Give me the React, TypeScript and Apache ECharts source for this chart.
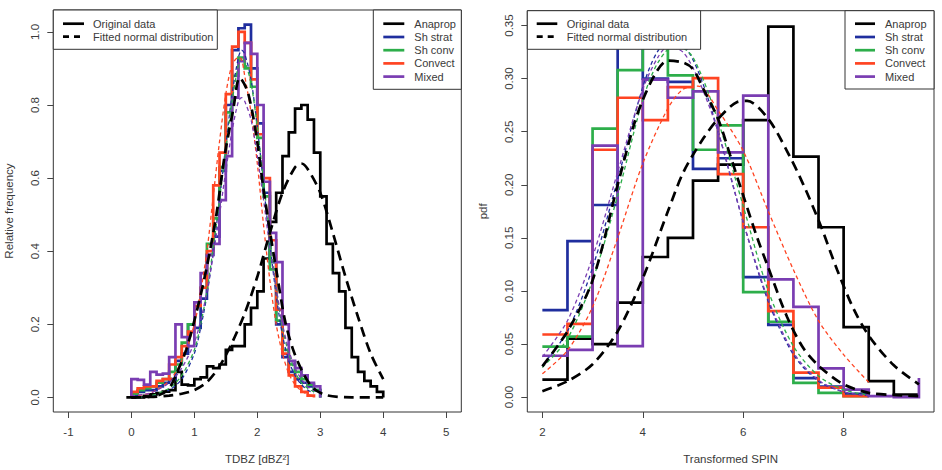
import React, { useEffect, useRef } from "react";
import * as echarts from "echarts";

// ---------- TDBZ panel: relative-frequency histograms, 0.1-wide bins from 0 ----------
const tdbzBinStart = 0;
const tdbzBinWidth = 0.1;
const tdbzAnaprop = [0.0, 0.0, 0.004, 0.008, 0.012, 0.016, 0.02, 0.07, 0.035, 0.033, 0.05, 0.055, 0.085, 0.08, 0.09, 0.13, 0.14, 0.14, 0.2, 0.245, 0.29, 0.38, 0.48, 0.56, 0.66, 0.725, 0.79, 0.8, 0.76, 0.67, 0.55, 0.42, 0.34, 0.29, 0.19, 0.11, 0.07, 0.045, 0.03, 0.015];
const tdbzShStrat = [0.005, 0.015, 0.02, 0.02, 0.03, 0.04, 0.05, 0.1, 0.12, 0.2, 0.19, 0.27, 0.39, 0.44, 0.62, 0.8, 0.95, 1.01, 1.02, 0.9, 0.75, 0.56, 0.37, 0.2, 0.11, 0.07, 0.05, 0.04, 0.03, 0.02];
const tdbzShConv = [0.01, 0.02, 0.025, 0.03, 0.04, 0.05, 0.07, 0.09, 0.15, 0.2, 0.25, 0.3, 0.42, 0.49, 0.63, 0.78, 0.88, 0.93, 0.9, 0.85, 0.71, 0.55, 0.35, 0.21, 0.13, 0.09, 0.07, 0.05, 0.035, 0.02];
const tdbzConvect = [0.015, 0.025, 0.03, 0.03, 0.045, 0.05, 0.09, 0.11, 0.14, 0.18, 0.25, 0.3, 0.4, 0.58, 0.67, 0.83, 0.96, 1.0, 0.97, 0.87, 0.72, 0.6, 0.43, 0.24, 0.12, 0.06, 0.03, 0.015, 0.005];
const tdbzMixed = [0.05, 0.048, 0.035, 0.07, 0.062, 0.065, 0.11, 0.2, 0.165, 0.14, 0.26, 0.34, 0.39, 0.42, 0.54, 0.66, 0.82, 0.92, 0.97, 0.94, 0.8, 0.59, 0.45, 0.37, 0.2, 0.1, 0.08, 0.06, 0.04, 0.03];

// TDBZ fitted normal curves (sampled)
const tdbzFitAllX = [-0.08, 0.2, 0.45, 0.6, 0.72, 0.87, 1.03, 1.19, 1.35, 1.48, 1.62, 1.72, 1.85, 1.99, 2.09, 2.2, 2.31, 2.44, 2.57, 2.73, 2.89, 3.1, 3.5, 4.0];
const tdbzFitAllY = [0, 0.001, 0.007, 0.025, 0.066, 0.13, 0.23, 0.35, 0.5, 0.66, 0.79, 0.875, 0.835, 0.71, 0.58, 0.455, 0.34, 0.21, 0.13, 0.066, 0.025, 0.006, 0, 0];
const tdbzFitAnapropX = [0, 0.3, 0.6, 0.8, 1.0, 1.2, 1.4, 1.6, 1.8, 2.0, 2.2, 2.4, 2.6, 2.7, 2.8, 3.0, 3.2, 3.4, 3.6, 3.8, 4.0];
const tdbzFitAnapropY = [0, 0.001, 0.005, 0.01, 0.02, 0.042, 0.085, 0.15, 0.23, 0.33, 0.45, 0.56, 0.63, 0.64, 0.625, 0.56, 0.45, 0.33, 0.22, 0.12, 0.05];
const tdbzFitClassX = [0, 0.3, 0.6, 0.8, 1.0, 1.1, 1.2, 1.3, 1.4, 1.5, 1.6, 1.7, 1.75, 1.8, 1.9, 2.0, 2.1, 2.2, 2.3, 2.4, 2.5, 2.6, 2.7, 2.8, 2.9];
const tdbzFitShStratY = [0.0, 0.003, 0.02, 0.05, 0.12, 0.19, 0.28, 0.4, 0.54, 0.69, 0.83, 0.93, 0.95, 0.94, 0.87, 0.74, 0.58, 0.42, 0.28, 0.17, 0.1, 0.06, 0.035, 0.02, 0.012];
const tdbzFitShConvY = [0.0, 0.004, 0.025, 0.06, 0.13, 0.2, 0.29, 0.41, 0.54, 0.68, 0.81, 0.91, 0.93, 0.92, 0.86, 0.74, 0.59, 0.44, 0.3, 0.19, 0.12, 0.07, 0.04, 0.025, 0.015];
const tdbzFitConvectY = [0.003, 0.012, 0.045, 0.1, 0.2, 0.29, 0.4, 0.55, 0.7, 0.83, 0.91, 0.93, 0.925, 0.88, 0.78, 0.64, 0.47, 0.32, 0.2, 0.12, 0.065, 0.035, 0.018, 0.008, 0.004];
const tdbzFitMixedY = [0.005, 0.012, 0.04, 0.08, 0.15, 0.21, 0.29, 0.39, 0.5, 0.62, 0.73, 0.81, 0.82, 0.81, 0.76, 0.66, 0.54, 0.41, 0.3, 0.2, 0.13, 0.08, 0.05, 0.03, 0.018];

// ---------- Transformed SPIN panel: pdf histograms, 0.5-wide bins from 2 ----------
const spinBinStart = 2;
const spinBinWidth = 0.5;
const spinAnaprop = [0.0165, 0.055, 0.05, 0.089, 0.132, 0.15, 0.204, 0.219, 0.261, 0.349, 0.2265, 0.16, 0.066, 0.015, 0.0025];
const spinShStrat = [0.082, 0.147, 0.181, 0.34, 0.3, 0.297, 0.215, 0.225, 0.113, 0.068, 0.018, 0.01, 0.003];
const spinShConv = [0.0476, 0.057, 0.253, 0.308, 0.354, 0.303, 0.233, 0.256, 0.099, 0.071, 0.0134, 0.004, 0.001];
const spinConvect = [0.059, 0.069, 0.233, 0.282, 0.261, 0.292, 0.3005, 0.21, 0.16, 0.081, 0.023, 0.009, 0.001];
const spinMixed = [0.039, 0.0445, 0.237, 0.048, 0.299, 0.282, 0.288, 0.2305, 0.284, 0.111, 0.085, 0.027, 0.007, 0.001, 0.0];
const spinMixedEnd = 0.018;

// SPIN fitted normal curves (sampled)
const spinFitAllX = [2, 2.5, 3, 3.5, 3.82, 4, 4.28, 4.5, 4.81, 5, 5.21, 5.5, 5.74, 6, 6.28, 6.5, 6.87, 7.2, 7.54, 8, 8.5, 9, 9.5];
const spinFitAllY = [0.029, 0.062, 0.11, 0.2, 0.256, 0.28, 0.307, 0.317, 0.315, 0.309, 0.29, 0.262, 0.228, 0.19, 0.15, 0.122, 0.076, 0.046, 0.028, 0.012, 0.004, 0.002, 0.001];
const spinFitAnapropX = [2, 2.5, 3, 3.5, 4, 4.5, 4.81, 5.21, 5.5, 5.88, 6.08, 6.5, 6.87, 7.2, 7.54, 7.87, 8.2, 8.53, 9, 9.5];
const spinFitAnapropY = [0.0056, 0.015, 0.031, 0.062, 0.112, 0.175, 0.212, 0.244, 0.262, 0.278, 0.279, 0.262, 0.232, 0.2, 0.162, 0.12, 0.083, 0.056, 0.03, 0.012];
const spinFitShStratX = [2, 2.5, 3, 3.5, 4, 4.3, 4.6, 4.9, 5.2, 5.5, 6, 6.5, 7, 7.5, 8, 8.5];
const spinFitShStratY = [0.03, 0.062, 0.122, 0.205, 0.292, 0.326, 0.337, 0.326, 0.295, 0.25, 0.165, 0.09, 0.04, 0.015, 0.005, 0.0015];
const spinFitShConvX = [2, 2.5, 3, 3.5, 4, 4.3, 4.65, 5, 5.5, 6, 6.5, 7, 7.5, 8, 8.5];
const spinFitShConvY = [0.028, 0.055, 0.11, 0.19, 0.28, 0.315, 0.332, 0.32, 0.26, 0.18, 0.1, 0.048, 0.02, 0.007, 0.002];
const spinFitConvectX = [2, 2.5, 3, 3.5, 4, 4.5, 4.8, 5.1, 5.5, 6, 6.5, 7, 7.5, 8, 8.5];
const spinFitConvectY = [0.022, 0.044, 0.085, 0.15, 0.22, 0.272, 0.29, 0.293, 0.27, 0.232, 0.175, 0.12, 0.072, 0.04, 0.014];
const spinFitMixedX = [2, 2.5, 3, 3.5, 4, 4.3, 4.5, 4.8, 5.1, 5.5, 6, 6.5, 7, 7.5, 8, 8.5, 9, 9.5];
const spinFitMixedY = [0.038, 0.072, 0.132, 0.212, 0.29, 0.32, 0.33, 0.325, 0.3, 0.25, 0.165, 0.092, 0.042, 0.016, 0.005, 0.0015, 0.0005, 0.0001];

// axis ticks
const tdbzTicks = [-1, 0, 1, 2, 3, 4, 5];
const relFreqTicks = [0, 0.2, 0.4, 0.6, 0.8, 1.0];
const spinTicks = [2, 4, 6, 8];
const pdfTicks = [0, 0.05, 0.1, 0.15, 0.2, 0.25, 0.3, 0.35];

const classNames = ["Anaprop", "Sh strat", "Sh conv", "Convect", "Mixed"];
const classColors = ["#000000", "#1F2E9E", "#2DAE4A", "#FF4422", "#7A3DB2"];
const styleNames = ["Original data", "Fitted normal distribution"];

const FONT = '"Liberation Sans", Arial, Helvetica, sans-serif';
const TEXT = "#3a3a3a";
const HIST_W = 2.7;
const FIT_THICK = 2.7;
const FIT_THIN = 1.3;
const DASH_THICK = [10, 6];
const DASH_THIN = [4, 3];
const LEGEND_Z = 100;

function stepPoints(start: number, width: number, values: number[], fromZero: boolean, toZero: boolean) {
  const pts: number[][] = [];
  if (fromZero) pts.push([start, 0]);
  values.forEach((v, i) => {
    pts.push([start + i * width, v]);
    pts.push([start + (i + 1) * width, v]);
  });
  if (toZero) pts.push([start + values.length * width, 0]);
  return pts;
}

function histSeries(pts: number[][], color: string, grid: number) {
  return {
    type: "line",
    xAxisIndex: grid,
    yAxisIndex: grid,
    data: pts,
    symbol: "none",
    silent: true,
    lineStyle: { color, width: HIST_W, join: "miter" },
    z: 2,
  };
}

function fitSeries(xs: number[], ys: number[], color: string, thick: boolean, grid: number) {
  return {
    type: "line",
    xAxisIndex: grid,
    yAxisIndex: grid,
    data: xs.map((x, i) => [x, ys[i]]),
    symbol: "none",
    silent: true,
    smooth: 0.3,
    lineStyle: {
      color,
      width: thick ? FIT_THICK : FIT_THIN,
      type: thick ? DASH_THICK : DASH_THIN,
    },
    z: thick ? 4 : 3,
  };
}

function legendBox(x: number, y: number, w: number, h: number, rows: { label: string; color: string; dash: number[] | null }[], lineX0: number, lineX1: number, textX: number, rowYs: number[]) {
  const els: any[] = [
    {
      type: "rect",
      z: LEGEND_Z,
      shape: { x, y, width: w, height: h },
      style: { fill: "#ffffff", stroke: "#333333", lineWidth: 1 },
    },
  ];
  rows.forEach((r, i) => {
    els.push({
      type: "line",
      z: LEGEND_Z + 1,
      shape: { x1: lineX0, y1: rowYs[i], x2: lineX1, y2: rowYs[i] },
      style: { stroke: r.color, lineWidth: HIST_W, lineDash: r.dash || undefined },
    });
    els.push({
      type: "text",
      z: LEGEND_Z + 1,
      x: textX,
      y: rowYs[i],
      style: { text: r.label, fill: TEXT, font: `11px ${FONT}`, verticalAlign: "middle" },
    });
  });
  return els;
}

function xAxisDef(grid: number, min: number, max: number, ticks: number[], name: string) {
  return {
    gridIndex: grid,
    type: "value",
    min,
    max,
    axisLine: { show: false, onZero: false },
    axisTick: { show: true, customValues: ticks, length: 6, inside: false, lineStyle: { color: "#444", width: 1 } },
    axisLabel: { customValues: ticks, color: TEXT, fontSize: 11.5, fontFamily: FONT, margin: 14 },
    splitLine: { show: false },
    name,
    nameLocation: "middle",
    nameGap: 41,
    nameTextStyle: { color: TEXT, fontSize: 11.5, fontFamily: FONT },
  };
}

function yAxisDef(grid: number, min: number, max: number, ticks: number[], digits: number, name: string) {
  return {
    gridIndex: grid,
    type: "value",
    min,
    max,
    axisLine: { show: false, onZero: false },
    axisTick: { show: true, customValues: ticks, length: 6, inside: false, lineStyle: { color: "#444", width: 1 } },
    axisLabel: {
      customValues: ticks,
      color: TEXT,
      fontSize: 11.5,
      fontFamily: FONT,
      rotate: 90,
      margin: 12,
      formatter: (v: number) => v.toFixed(digits),
    },
    splitLine: { show: false },
    name,
    nameLocation: "middle",
    nameGap: 38,
    nameRotate: 90,
    nameTextStyle: { color: TEXT, fontSize: 11.5, fontFamily: FONT },
  };
}

export default function App() {
  const ref = useRef<HTMLDivElement>(null);

  useEffect(() => {
    if (!ref.current) return;
    const chart = echarts.init(ref.current, undefined, { renderer: "svg" });

    const tdbzHists = [tdbzAnaprop, tdbzShStrat, tdbzShConv, tdbzConvect, tdbzMixed];
    const tdbzFits = [tdbzFitShStratY, tdbzFitShConvY, tdbzFitConvectY, tdbzFitMixedY];
    const spinHists = [spinAnaprop, spinShStrat, spinShConv, spinConvect];

    const series: any[] = [];
    tdbzHists.forEach((vals, i) => {
      series.push(histSeries(stepPoints(tdbzBinStart, tdbzBinWidth, vals, true, true), classColors[i], 0));
    });
    tdbzFits.forEach((ys, i) => {
      series.push(fitSeries(tdbzFitClassX, ys, classColors[i + 1], false, 0));
    });
    series.push(fitSeries(tdbzFitAllX, tdbzFitAllY, classColors[0], true, 0));
    series.push(fitSeries(tdbzFitAnapropX, tdbzFitAnapropY, classColors[0], true, 0));

    spinHists.forEach((vals, i) => {
      series.push(histSeries(stepPoints(spinBinStart, spinBinWidth, vals, false, false), classColors[i], 1));
    });
    const mixedPts = stepPoints(spinBinStart, spinBinWidth, spinMixed, false, false);
    mixedPts.push([spinBinStart + spinMixed.length * spinBinWidth, spinMixedEnd]);
    series.push(histSeries(mixedPts, classColors[4], 1));
    const spinFitXs = [spinFitShStratX, spinFitShConvX, spinFitConvectX, spinFitMixedX];
    const spinFitYs = [spinFitShStratY, spinFitShConvY, spinFitConvectY, spinFitMixedY];
    spinFitXs.forEach((xs, i) => {
      series.push(fitSeries(xs, spinFitYs[i], classColors[i + 1], false, 1));
    });
    series.push(fitSeries(spinFitAllX, spinFitAllY, classColors[0], true, 1));
    series.push(fitSeries(spinFitAnapropX, spinFitAnapropY, classColors[0], true, 1));

    const styleRows = [
      { label: styleNames[0], color: "#000", dash: null },
      { label: styleNames[1], color: "#000", dash: [6, 5] },
    ];
    const classRows = classNames.map((n, i) => ({ label: n, color: classColors[i], dash: null }));
    const twoRows = [23.7, 36.7];
    const fiveRows = [23.7, 37, 50.2, 63.4, 76.6];

    chart.setOption({
      animation: false,
      backgroundColor: "#ffffff",
      grid: [
        { left: 53.3, top: 10, width: 408, height: 405.7, show: true, borderColor: "#333", borderWidth: 1, containLabel: false },
        { left: 527.3, top: 10.7, width: 406.7, height: 405, show: true, borderColor: "#333", borderWidth: 1, containLabel: false },
      ],
      xAxis: [
        xAxisDef(0, -1.24, 5.24, tdbzTicks, "TDBZ [dBZ²]"),
        xAxisDef(1, 1.7, 9.8, spinTicks, "Transformed SPIN"),
      ],
      yAxis: [
        yAxisDef(0, -0.04, 1.06, relFreqTicks, 1, "Relative frequency"),
        yAxisDef(1, -0.014, 0.364, pdfTicks, 2, "pdf"),
      ],
      series,
      graphic: [
        ...legendBox(53.3, 10, 164, 39.3, styleRows, 63, 84, 93, twoRows),
        ...legendBox(373.3, 10, 88, 79.3, classRows, 383.3, 404.3, 414.3, fiveRows),
        ...legendBox(527.3, 10.7, 173.3, 38.6, styleRows, 536.7, 557.3, 566.7, twoRows),
        ...legendBox(845, 10.7, 89, 78.3, classRows, 855, 875, 885, fiveRows),
      ],
    });

    return () => chart.dispose();
  }, []);

  return (
    <div
      ref={ref}
      style={{ position: "fixed", left: 0, top: 0, width: 942, height: 470, background: "#fff" }}
    />
  );
}
